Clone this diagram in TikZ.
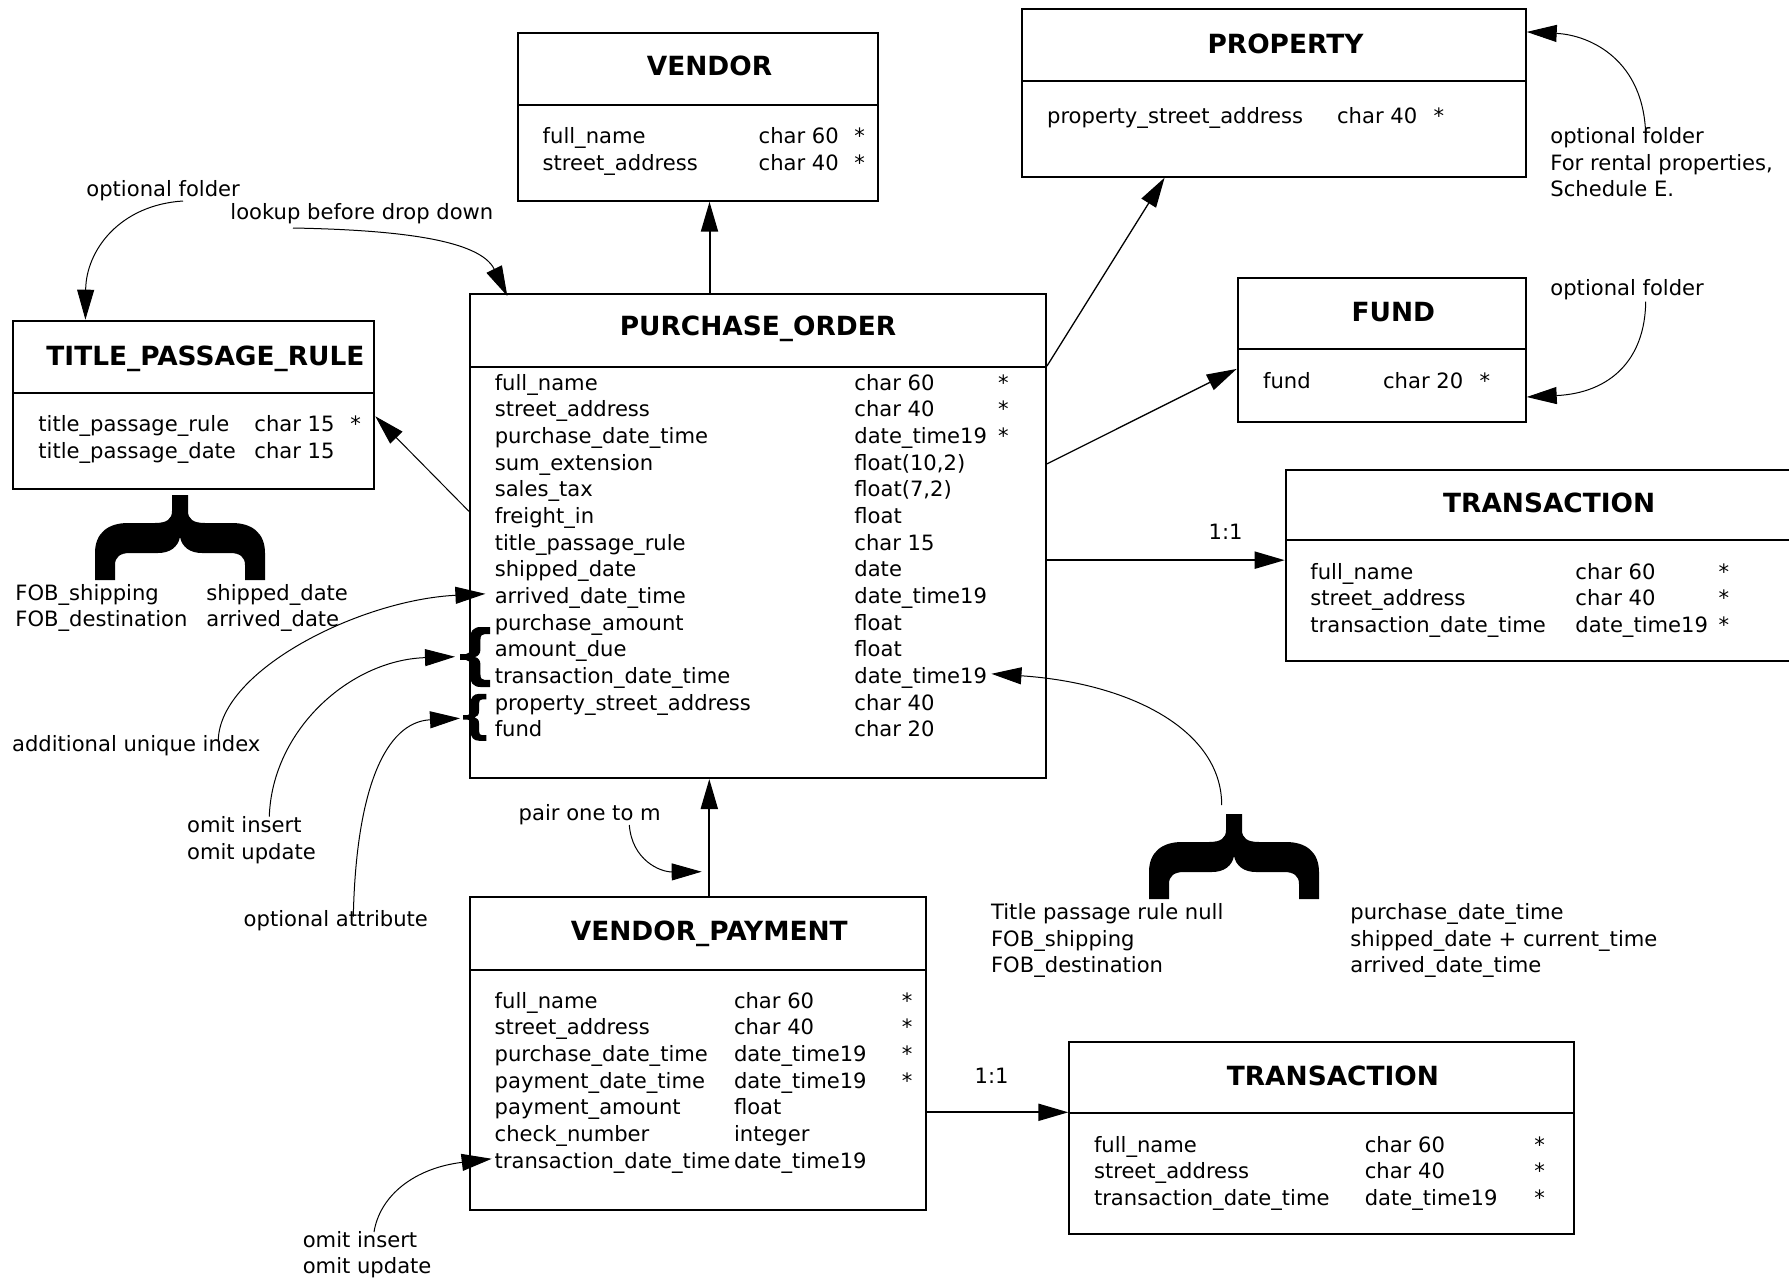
\documentclass[tikz,border=0pt]{standalone}
\usepackage{fontspec}
\setmainfont{DejaVu Sans}
\usetikzlibrary{arrows.meta,calc,fit}
\newcommand\erbody{\fontsize{10.55}{13.33}\selectfont}
\newcommand\ertitle{\fontsize{13.2}{16}\selectfont\bfseries}
\begin{document}
\begin{tikzpicture}[x=0.5pt,y=-0.5pt,
  ent/.style={draw,line width=1pt,inner sep=0pt},
  txt/.style={font=\erbody,inner sep=0pt,anchor=base west},
  ttl/.style={font=\ertitle,inner sep=0pt,anchor=base},
  tipA/.style={-{Triangle[length=15pt,width=8.5pt]}},
  heavy/.style={tipA,line width=1pt},
  medium/.style={tipA,line width=0.65pt},
  fine/.style={tipA,line width=0.5pt},
  bracepic/.pic={\fill[black] (-85,85) -- (-85,58) .. controls (-85,38) and (-72,28) .. (-52,28) -- (-25,28) .. controls (-13,28) and (-8,24) .. (-8,16) -- (-8,0) -- (8,0) -- (8,16) .. controls (8,24) and (13,28) .. (25,28) -- (52,28) .. controls (72,28) and (85,38) .. (85,58) -- (85,85) -- (65,85) -- (65,70) .. controls (65,62) and (60,58) .. (50,58) -- (22,58) .. controls (10,58) and (2,52) .. (0,42) .. controls (-2,52) and (-10,58) .. (-22,58) -- (-50,58) .. controls (-60,58) and (-65,62) .. (-65,70) -- (-65,85) -- cycle;}
]
\useasboundingbox (0,0) rectangle (1789,1280);
\fill[white] (0,0) rectangle (1789,1280);
\clip (0,0) rectangle (1789,1280);

% ---------- VENDOR ----------
\node[ent,fit={(517.7,32.7) (877.7,105)}] (vendH) {};
\node[ent,fit={(517.7,105) (877.7,200.7)}] (vendB) {};
\node[ttl] (vendT) at (709.5,75) {VENDOR};
\node[txt] (vend1a) at (542.3,143.3) {full\_name};
\node[txt] (vend1b) at (758.3,143.3) {char 60};
\node[txt] (vend1c) at (854,143.3) {*};
\node[txt] (vend2a) at (542.3,170) {street\_address};
\node[txt] (vend2b) at (758.3,170) {char 40};
\node[txt] (vend2c) at (854,170) {*};

% ---------- PROPERTY ----------
\node[ent,fit={(1021.6,9) (1525.7,80.7)}] (propH) {};
\node[ent,fit={(1021.6,80.7) (1525.7,176.7)}] (propB) {};
\node[ttl] (propT) at (1285.5,53.3) {PROPERTY};
\node[txt] (prop1a) at (1046.7,123.3) {property\_street\_address};
\node[txt] (prop1b) at (1336.7,123.3) {char 40};
\node[txt] (prop1c) at (1433.3,123.3) {*};

% ---------- FUND ----------
\node[ent,fit={(1237.7,277.7) (1525.7,349)}] (fundH) {};
\node[ent,fit={(1237.7,349) (1525.7,421.7)}] (fundB) {};
\node[ttl] (fundT) at (1393.3,321.7) {FUND};
\node[txt] (fund1a) at (1262.7,388.3) {fund};
\node[txt] (fund1b) at (1382.7,388.3) {char 20};
\node[txt] (fund1c) at (1479.3,388.3) {*};

% ---------- TITLE_PASSAGE_RULE ----------
\node[ent,fit={(13.3,320.7) (374.3,392.7)}] (tprH) {};
\node[ent,fit={(13.3,392.7) (374.3,489)}] (tprB) {};
\node[ttl] (tprT) at (205.5,365) {TITLE\_PASSAGE\_RULE};
\node[txt] (tpr1a) at (38,431.7) {title\_passage\_rule};
\node[txt] (tpr1b) at (254,431.7) {char 15};
\node[txt] (tpr1c) at (350,431.7) {*};
\node[txt] (tpr2a) at (38,458.3) {title\_passage\_date};
\node[txt] (tpr2b) at (254,458.3) {char 15};

% ---------- PURCHASE_ORDER ----------
\node[ent,fit={(470,294) (1046,367)}] (poH) {};
\node[ent,fit={(470,367) (1046,778)}] (poB) {};
\node[ttl] (poT) at (758,335) {PURCHASE\_ORDER};
\foreach \a/\b/\c [count=\i from 0] in {
  full\_name/char 60/*,
  street\_address/char 40/*,
  purchase\_date\_time/date\_time19/*,
  sum\_extension/{float(10,2)}/{},
  sales\_tax/{float(7,2)}/{},
  freight\_in/float/{},
  title\_passage\_rule/char 15/{},
  shipped\_date/date/{},
  arrived\_date\_time/date\_time19/{},
  purchase\_amount/float/{},
  amount\_due/float/{},
  transaction\_date\_time/date\_time19/{},
  property\_street\_address/char 40/{},
  fund/char 20/{}}{
  \node[txt] (po\i a) at (494.4,{390+26.667*\i}) {\a};
  \node[txt] (po\i b) at (854,{390+26.667*\i}) {\b};
  \node[txt] (po\i c) at (997.7,{390+26.667*\i}) {\c};
}

% ---------- TRANSACTION (upper) ----------
\node[ent,fit={(1285.7,470) (1800,540.3)}] (taH) {};
\node[ent,fit={(1285.7,540.3) (1800,661)}] (taB) {};
\node[ttl] (taT) at (1549.2,512.7) {TRANSACTION};
\foreach \a/\b [count=\i from 0] in {full\_name/char 60, street\_address/char 40, transaction\_date\_time/date\_time19}{
  \node[txt] (ta\i a) at (1310,{579.3+26.667*\i}) {\a};
  \node[txt] (ta\i b) at (1575,{579.3+26.667*\i}) {\b};
  \node[txt] (ta\i c) at (1718.3,{579.3+26.667*\i}) {*};
}

% ---------- VENDOR_PAYMENT ----------
\node[ent,fit={(470,896.7) (925.7,970)}] (vpH) {};
\node[ent,fit={(470,970) (925.7,1210)}] (vpB) {};
\node[ttl] (vpT) at (709.3,940) {VENDOR\_PAYMENT};
\foreach \a/\b/\c [count=\i from 0] in {
  full\_name/char 60/*,
  street\_address/char 40/*,
  purchase\_date\_time/date\_time19/*,
  payment\_date\_time/date\_time19/*,
  payment\_amount/float/{},
  check\_number/integer/{},
  transaction\_date\_time/date\_time19/{}}{
  \node[txt] (vp\i a) at (494.3,{1008.3+26.667*\i}) {\a};
  \node[txt] (vp\i b) at (733.6,{1008.3+26.667*\i}) {\b};
  \node[txt] (vp\i c) at (901.4,{1008.3+26.667*\i}) {\c};
}

% ---------- TRANSACTION (lower) ----------
\node[ent,fit={(1069.3,1041.7) (1573.5,1113.3)}] (tbH) {};
\node[ent,fit={(1069.3,1113.3) (1573.5,1234)}] (tbB) {};
\node[ttl] (tbT) at (1332.9,1085) {TRANSACTION};
\foreach \a/\b [count=\i from 0] in {full\_name/char 60, street\_address/char 40, transaction\_date\_time/date\_time19}{
  \node[txt] (tb\i a) at (1093.6,{1152+26.667*\i}) {\a};
  \node[txt] (tb\i b) at (1364.4,{1152+26.667*\i}) {\b};
  \node[txt] (tb\i c) at (1534,{1152+26.667*\i}) {*};
}

% ---------- relationship connectors ----------
\draw[heavy] (poH.north -| vendT) -- (vendB.south -| vendT);
\draw[medium] (poB.north east) -- ($(propB.south west)!0.2845!(propB.south east)$);
\draw[medium] ($(poB.north east)!0.237!(poB.south east)$) -- ($(fundB.north west)!0.28!(fundB.south west)$);
\coordinate (taIn) at ($(taB.north west)!0.17!(taB.south west)$);
\draw[heavy] (taIn -| poB.east) -- (taIn);
\node[txt] (oneA) at (1208.3,539.3) {1:1};
\draw[fine] ($(poB.north west)!0.352!(poB.south west)$) -- ($(tprB.north east)!0.25!(tprB.south east)$);
\draw[heavy] (vpH.north -| vpT) -- (poB.south -| vpT);
\draw[heavy] (tbB.north west -| vpB.east) -- (tbB.north west);
\node[txt] (oneB) at (974.3,1083.3) {1:1};

% ---------- braces ----------
\pic at (180,495) {bracepic};
\pic at (1234,814) {bracepic};
\pic[rotate=90,scale=0.353] at (460,657) {bracepic};
\pic[rotate=90,scale=0.276] at (463,717.3) {bracepic};

% ---------- annotations ----------
\node[txt] (lbFold) at (86,196) {optional folder};
\coordinate (sFold) at (183,201);
\draw[fine] (sFold) .. controls (120,205) and (86,250) .. ($(tprH.north west)!0.2014!(tprH.north east)$);

\node[txt] (lbLook) at (230,219) {lookup before drop down};
\coordinate (sLook) at (293,228);
\draw[fine] (sLook) .. controls (400,230) and (480,240) .. ([yshift=-1.5pt]$(poH.north west)!0.0663!(poH.north east)$);

\node[txt] (lbFobA) at (15,600) {FOB\_shipping};
\node[txt] (lbFobB) at (15,626) {FOB\_destination};
\node[txt] (lbShA) at (206,600) {shipped\_date};
\node[txt] (lbShB) at (206,626) {arrived\_date};

\node[txt] (lbUniq) at (11.7,751.7) {additional unique index};
\coordinate (sUniq) at (218.3,740);
\draw[fine] (sUniq) .. controls (220,670) and (360,600) .. ([xshift=-4.5pt,yshift=2pt]po8a.west);

\node[txt] (lbOmA) at (186.7,832.7) {omit insert};
\node[txt] (lbOmB) at (186.7,859.3) {omit update};
\coordinate (sOm) at (269.3,816.7);
\coordinate (eOm) at (455,656.7);
\draw[fine] (sOm) .. controls (272,730) and (350,660) .. (eOm);

\node[txt] (lbOpt) at (243.3,926.7) {optional attribute};
\coordinate (sOpt) at (353.3,916.7);
\coordinate (eOpt) at (460,718.3);
\draw[fine] (sOpt) .. controls (356,790) and (385,722) .. (eOpt);

\node[txt] (lbPair) at (518.3,820) {pair one to m};
\coordinate (sPair) at (629.3,825);
\coordinate (ePair) at ([xshift=-3.8pt,yshift=12pt]vpH.north -| vpT);
\draw[fine] (sPair) .. controls (632,860) and (660,872) .. (ePair);

\node[txt] (lbOm2A) at (302.4,1247) {omit insert};
\node[txt] (lbOm2B) at (302.4,1273.7) {omit update};
\coordinate (sOm2) at (374,1232);
\draw[fine] (sOm2) .. controls (380,1195) and (415,1168) .. ([xshift=-1.3pt,yshift=2pt]vp6a.west);

\node[txt] (lbRule) at (990.7,919.3) {Title passage rule null};
\node[txt] (lbRuleB) at (990.7,946) {FOB\_shipping};
\node[txt] (lbRuleC) at (990.7,972.7) {FOB\_destination};
\node[txt] (lbPdt) at (1350,919.3) {purchase\_date\_time};
\node[txt] (lbPdtB) at (1350,946) {shipped\_date + current\_time};
\node[txt] (lbPdtC) at (1350,972.7) {arrived\_date\_time};
\coordinate (sTdt) at (1221.7,805);
\draw[fine] (sTdt) .. controls (1221.7,730) and (1130,683) .. ([xshift=2pt,yshift=2pt]po11b.east);

\node[txt] (lbProp) at (1550,143.3) {optional folder};
\node[txt] (lbPropB) at (1550,170) {For rental properties,};
\node[txt] (lbPropC) at (1550,196.7) {Schedule E.};
\coordinate (sProp) at (1645.7,137);
\draw[fine] (sProp) .. controls (1645,60) and (1590,35) .. ($(propH.north east)!0.325!(propH.south east)$);

\node[txt] (lbFund) at (1550,295) {optional folder};
\coordinate (sFund) at (1645.7,301.7);
\draw[fine] (sFund) .. controls (1645,360) and (1610,393) .. ($(fundB.north east)!0.656!(fundB.south east)$);
\end{tikzpicture}
\end{document}
